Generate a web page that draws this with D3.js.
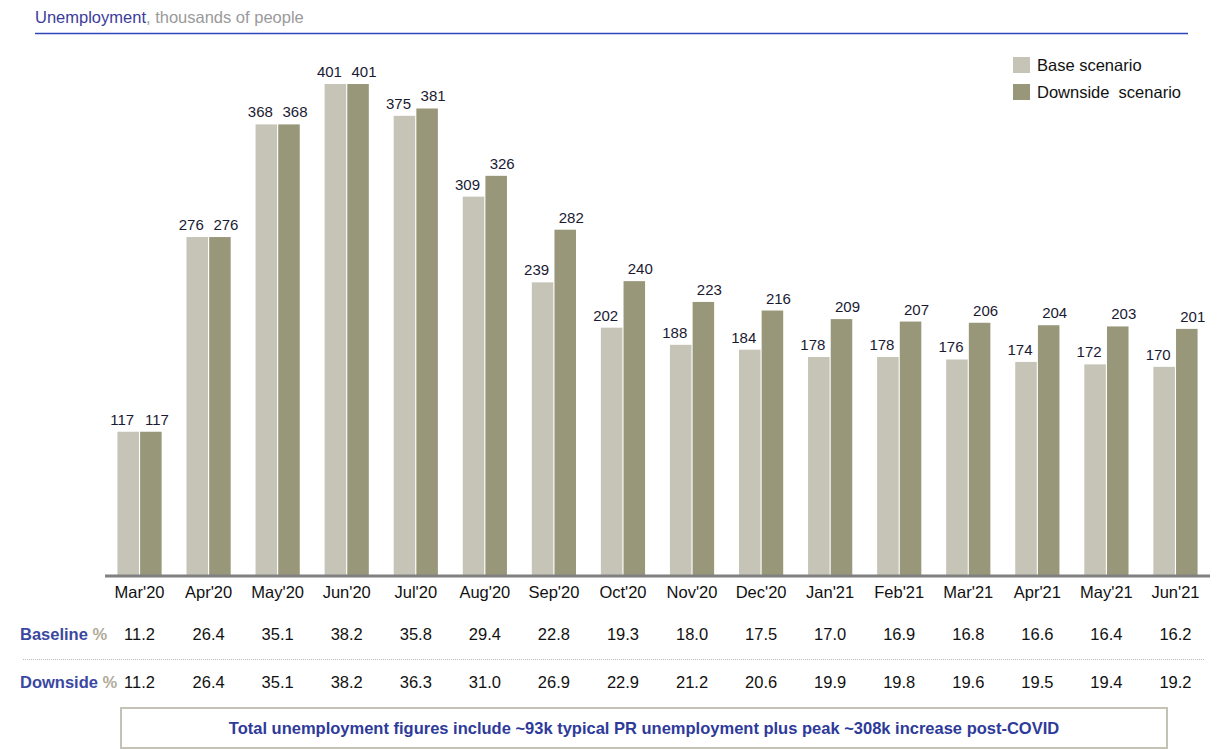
<!DOCTYPE html>
<html>
<head>
<meta charset="utf-8">
<script src="https://cdn.jsdelivr.net/npm/d3@7"></script>
<style>
  body { margin: 0; background: #fff; }
  svg { font-family: Arial, "Liberation Sans", sans-serif; }
</style>
</head>
<body>
<div id="chart"></div>
<script>
// data
const months = ["Mar'20","Apr'20","May'20","Jun'20","Jul'20","Aug'20","Sep'20","Oct'20",
                "Nov'20","Dec'20","Jan'21","Feb'21","Mar'21","Apr'21","May'21","Jun'21"];
const baseValues = [117,276,368,401,375,309,239,202,188,184,178,178,176,174,172,170];
const downValues = [117,276,368,401,381,326,282,240,223,216,209,207,206,204,203,201];
const basePct = ["11.2","26.4","35.1","38.2","35.8","29.4","22.8","19.3","18.0","17.5","17.0","16.9","16.8","16.6","16.4","16.2"];
const downPct = ["11.2","26.4","35.1","38.2","36.3","31.0","26.9","22.9","21.2","20.6","19.9","19.8","19.6","19.5","19.4","19.2"];
const seriesNames = ["Base scenario", "Downside  scenario"];
const colors = ["#c6c4b6", "#999779"];

const W = 1221, H = 749;
const fs = "16.5px";
const svg = d3.select("#chart").append("svg")
    .attr("width", W).attr("height", H);

// title
const title = svg.append("text").attr("x", 35).attr("y", 23).style("font-size", fs);
title.append("tspan").attr("fill", "#3c3c9c").text("Unemployment");
title.append("tspan").attr("fill", "#9a9a9a").text(", thousands of people");
svg.append("line").attr("x1", 35).attr("x2", 1188).attr("y1", 33.5).attr("y2", 33.5)
    .attr("stroke", "#2f46b8").attr("stroke-width", 1.5);

// scales
const x = d3.scaleBand().domain(months).range([105, 1210]).paddingInner(0.36).paddingOuter(0.18);
const xs = d3.scaleBand().domain([0, 1]).range([0, x.bandwidth()]).paddingInner(0.05);
const y = d3.scaleLinear().domain([0, 401]).range([575, 84]);

// bars
const groups = svg.append("g").selectAll("g").data(months).enter().append("g")
    .attr("transform", d => "translate(" + x(d) + ",0)");

[baseValues, downValues].forEach(function(vals, s) {
    groups.append("rect")
        .attr("x", xs(s))
        .attr("width", xs.bandwidth())
        .attr("y", (d, i) => y(vals[i]))
        .attr("height", (d, i) => y(0) - y(vals[i]))
        .attr("fill", colors[s]);
    // labels pushed slightly outward so pairs don't collide
    groups.append("text")
        .attr("x", xs(s) + xs.bandwidth() / 2 + (s === 0 ? -6 : 6))
        .attr("y", (d, i) => y(vals[i]) - 7)
        .attr("text-anchor", "middle")
        .style("font-size", "15px")
        .attr("fill", "#1a1a33")
        .text((d, i) => vals[i]);
});

// axis line
svg.append("line").attr("x1", 105).attr("x2", 1210).attr("y1", 576).attr("y2", 576)
    .attr("stroke", "#808080").attr("stroke-width", 3);

// category labels
svg.append("g").selectAll("text").data(months).enter().append("text")
    .attr("x", d => x(d) + x.bandwidth() / 2)
    .attr("y", 598)
    .attr("text-anchor", "middle")
    .style("font-size", fs)
    .attr("fill", "#111")
    .text(d => d);

// table rows
function row(label, vals, yy) {
    const t = svg.append("text").attr("x", 20).attr("y", yy)
        .style("font-size", fs).style("font-weight", "bold");
    t.append("tspan").attr("fill", "#3a48a0").text(label + " ");
    t.append("tspan").attr("fill", "#b0ab98").text("%");
    svg.append("g").selectAll("text").data(vals).enter().append("text")
        .attr("x", (d, i) => x(months[i]) + x.bandwidth() / 2)
        .attr("y", yy)
        .attr("text-anchor", "middle")
        .style("font-size", fs)
        .attr("fill", "#111")
        .text(d => d);
}
row("Baseline", basePct, 640);
row("Downside", downPct, 688);

svg.append("line").attr("x1", 23).attr("x2", 1205).attr("y1", 659.5).attr("y2", 659.5)
    .attr("stroke", "#bbb").attr("stroke-width", 1).attr("stroke-dasharray", "1,1");

// legend
seriesNames.forEach(function(n, i) {
    svg.append("rect").attr("x", 1013).attr("y", 57 + i * 27).attr("width", 17).attr("height", 16)
        .attr("fill", colors[i]);
    svg.append("text").attr("x", 1037).attr("y", 71 + i * 27)
        .style("font-size", fs).attr("fill", "#111")
        .style("white-space", "pre").attr("xml:space", "preserve")
        .text(n);
});

// note box
svg.append("rect").attr("x", 121).attr("y", 708).attr("width", 1046).attr("height", 40)
    .attr("fill", "#fff").attr("stroke", "#c4c2b4").attr("stroke-width", 2);
svg.append("text").attr("x", 644).attr("y", 734)
    .attr("text-anchor", "middle")
    .style("font-size", fs).style("font-weight", "bold").attr("fill", "#2e3a9a")
    .text("Total unemployment figures include ~93k typical PR unemployment plus peak ~308k increase post-COVID");
</script>
</body>
</html>
